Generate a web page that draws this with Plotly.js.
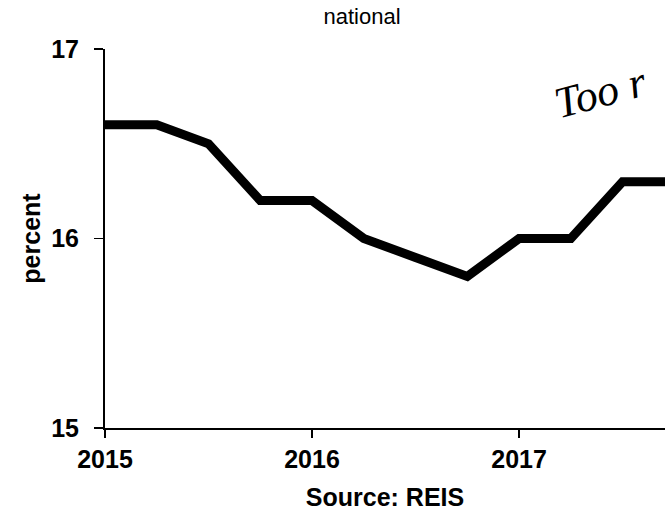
<!DOCTYPE html>
<html>
<head>
<meta charset="utf-8">
<script src="https://cdn.plot.ly/plotly-3.0.1.min.js"></script>
<style>html,body{margin:0;padding:0;background:#fff;}#chart{width:665px;height:511px;}</style>
</head>
<body>
<div id="chart"></div>
<script>
// Data (quarterly, year fraction)
const quarters = [2015, 2015.25, 2015.5, 2015.75, 2016, 2016.25, 2016.5, 2016.75, 2017, 2017.25, 2017.5, 2017.75];
const vacancyRate = [16.6, 16.6, 16.5, 16.2, 16.2, 16.0, 15.9, 15.8, 16.0, 16.0, 16.3, 16.3];
const xTickVals = [2015, 2016, 2017];
const xTickText = ["2015", "2016", "2017"];
const yTickVals = [15, 16, 17];
const yTickText = ["15", "16", "17"];

const FONT = "Liberation Sans, Arial, sans-serif";

const trace = {
  x: quarters,
  y: vacancyRate,
  type: "scatter",
  mode: "lines",
  line: {color: "#000", width: 9},
  cliponaxis: true,
  hoverinfo: "skip"
};

const layout = {
  width: 665,
  height: 511,
  margin: {l: 105, r: 0, t: 49, b: 83},
  paper_bgcolor: "#fff",
  plot_bgcolor: "#fff",
  showlegend: false,
  title: {
    text: "national",
    font: {family: FONT, size: 22, color: "#000"},
    x: 362 / 665, xanchor: "center",
    y: 1 - 16 / 511, yanchor: "middle"
  },
  xaxis: {
    range: [2015, 2017.705],
    tickvals: xTickVals,
    ticktext: xTickText,
    ticks: "outside",
    ticklen: 8,
    tickwidth: 1.5,
    tickcolor: "#000",
    showline: true,
    linecolor: "#000",
    linewidth: 2,
    showgrid: false,
    zeroline: false,
    ticklabelstandoff: 0,
    tickfont: {family: FONT, size: 25, color: "#000", weight: "bold"},
    title: {
      text: "<b>Source: REIS</b>",
      font: {family: FONT, size: 25, color: "#000"},
      standoff: 17
    }
  },
  yaxis: {
    range: [15, 17],
    tickvals: yTickVals,
    ticktext: yTickText,
    ticks: "outside",
    ticklen: 9,
    tickwidth: 1.5,
    tickcolor: "#000",
    showline: true,
    linecolor: "#000",
    linewidth: 2,
    showgrid: false,
    zeroline: false,
    ticklabelstandoff: 10,
    tickfont: {family: FONT, size: 25, color: "#000", weight: "bold"},
    title: {
      text: "<b>percent</b>",
      font: {family: FONT, size: 25, color: "#000"},
      standoff: 3
    }
  },
  annotations: [
    {
      text: "<i>Too r</i>",
      xref: "paper", yref: "paper",
      x: 0.884, y: 0.885,
      xanchor: "center", yanchor: "middle",
      showarrow: false,
      textangle: -15,
      font: {family: "Liberation Serif, serif", size: 44, color: "#000"}
    }
  ]
};

Plotly.newPlot("chart", [trace], layout, {staticPlot: true, displayModeBar: false});
</script>
</body>
</html>
